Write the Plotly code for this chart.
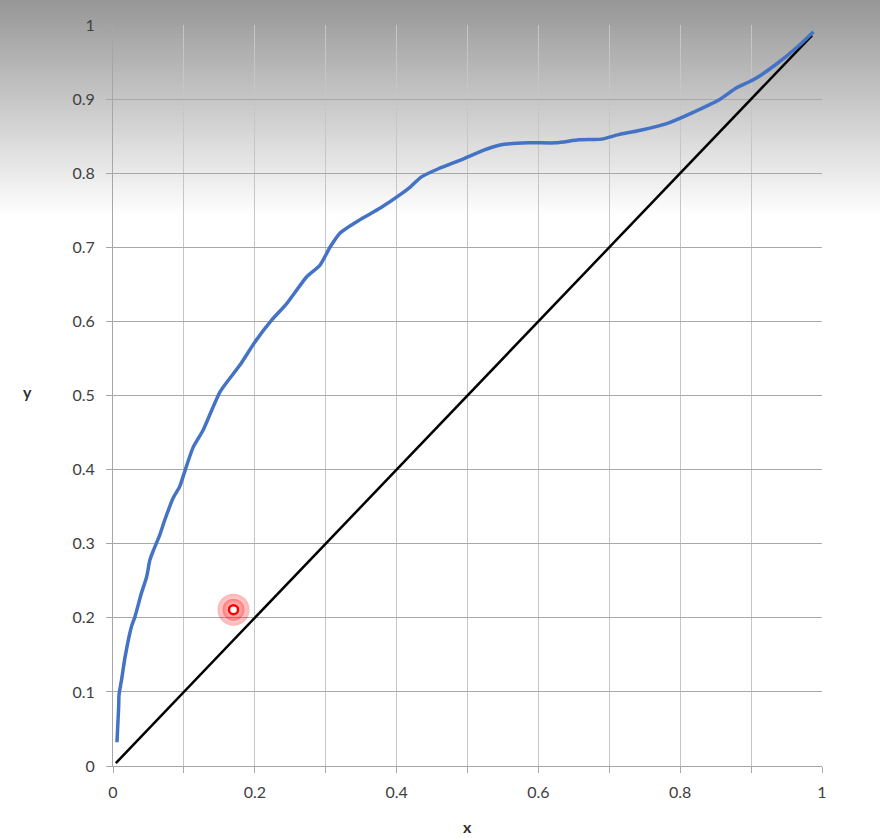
import plotly.graph_objects as go

# ---- data ----
blue_x = [0.0056, 0.008, 0.0085, 0.012, 0.017, 0.026, 0.031, 0.040, 0.0475, 0.052, 0.057, 0.066,
          0.073, 0.085, 0.094, 0.102, 0.113, 0.127, 0.151, 0.179, 0.200, 0.224, 0.245, 0.273, 0.292,
          0.306, 0.320, 0.348, 0.377, 0.405, 0.420, 0.435, 0.459, 0.491, 0.523, 0.546, 0.586,
          0.625, 0.657, 0.689, 0.713, 0.744, 0.784, 0.816, 0.855, 0.879, 0.903, 0.934, 0.966, 0.988]
blue_y = [0.032, 0.080, 0.096, 0.116, 0.147, 0.188, 0.2015, 0.233, 0.2555, 0.278, 0.291, 0.312,
          0.332, 0.362, 0.377, 0.400, 0.430, 0.453, 0.505, 0.541, 0.572, 0.602, 0.624, 0.660, 0.676,
          0.700, 0.719, 0.737, 0.753, 0.771, 0.782, 0.795, 0.806, 0.818, 0.831, 0.838, 0.841,
          0.841, 0.845, 0.846, 0.852, 0.858, 0.868, 0.881, 0.899, 0.915, 0.926, 0.946, 0.971, 0.991]

diag_x = [0.004, 0.1, 0.2, 0.3, 0.4, 0.5, 0.6, 0.7, 0.8, 0.9, 0.986]
diag_y = [0.004, 0.1, 0.2, 0.3, 0.4, 0.5, 0.6, 0.7, 0.8, 0.9, 0.986]

point_x = [0.17]
point_y = [0.211]

x_tickvals = [0, 0.1, 0.2, 0.3, 0.4, 0.5, 0.6, 0.7, 0.8, 0.9, 1.0]
x_ticktext = ["0", "", "0.2", "", "0.4", "", "0.6", "", "0.8", "", "1"]
y_tickvals = [0, 0.1, 0.2, 0.3, 0.4, 0.5, 0.6, 0.7, 0.8, 0.9, 1.0]
y_ticktext = ["0", "0.1", "0.2", "0.3", "0.4", "0.5", "0.6", "0.7", "0.8", "0.9", "1"]

# ---- layout geometry ----
W, H = 880, 838
ML, MR, MT, MB = 113, 58, 25, 72
PW, PH = W - ML - MR, H - MT - MB

fig = go.Figure()

fig.add_trace(go.Scatter(x=diag_x, y=diag_y, mode="lines",
                         line=dict(color="#000000", width=2.5), hoverinfo="skip"))
fig.add_trace(go.Scatter(x=blue_x, y=blue_y, mode="lines",
                         line=dict(color="#4472C4", width=3.5, shape="spline", smoothing=0.6),
                         hoverinfo="skip"))
# soft glow around the highlighted point
for sz, a in [(32, 0.30), (22, 0.40)]:
    fig.add_trace(go.Scatter(x=point_x, y=point_y, mode="markers",
                             marker=dict(size=sz, color=f"rgba(255,0,0,{a})",
                                         gradient=dict(type="radial", color="rgba(255,0,0,0)"),
                                         line=dict(width=0)), hoverinfo="skip"))
fig.add_trace(go.Scatter(x=point_x, y=point_y, mode="markers",
                         marker=dict(size=9, color="#ffffff", line=dict(color="#ff0000", width=2.5)),
                         hoverinfo="skip"))

# background gradient (top of the window)
shapes = []
grad_h = 216
step = 3
for py in range(0, grad_h, step):
    v = int(round(150 + 105 * (py + step / 2) / grad_h))
    v = min(v, 255)
    shapes.append(dict(type="rect", xref="paper", yref="paper",
                       x0=-ML / PW, x1=(W - ML) / PW,
                       y0=(H - MB - (py + step)) / PH, y1=(H - MB - py) / PH,
                       fillcolor=f"rgb({v},{v},{v})", line=dict(width=0), layer="below"))

fig.update_layout(
    width=W, height=H,
    margin=dict(l=ML, r=MR, t=MT, b=MB),
    paper_bgcolor="#ffffff",
    plot_bgcolor="rgba(0,0,0,0)",
    showlegend=False,
    shapes=shapes,
    font=dict(family="Lato, Open Sans, sans-serif", size=16, color="#404040"),
    annotations=[
        dict(text="<b>x</b>", x=0.5, y=(H - MB - 826) / PH, xref="paper", yref="paper",
             xanchor="center", yanchor="middle",
             showarrow=False, font=dict(size=16, color="#303030")),
        dict(text="<b>y</b>", x=(27 - ML) / PW, y=(H - MB - 391) / PH, xref="paper", yref="paper",
             xanchor="center", yanchor="middle",
             showarrow=False, font=dict(size=16, color="#303030")),
    ],
)
fig.update_xaxes(range=[0, 1], tickvals=x_tickvals, ticktext=x_ticktext,
                 showgrid=True, gridcolor="#c6c6c6", gridwidth=1,
                 showline=True, linecolor="#a6a6a6", linewidth=1,
                 ticks="outside", ticklen=6, tickcolor="#a6a6a6",
                 zeroline=False, mirror=False, ticklabelstandoff=6)
fig.update_yaxes(range=[0, 1], tickvals=y_tickvals, ticktext=y_ticktext,
                 showgrid=True, gridcolor="#a8a8a8", gridwidth=1,
                 showline=True, linecolor="#a6a6a6", linewidth=1,
                 ticks="outside", ticklen=6, tickcolor="#a6a6a6",
                 zeroline=False, ticklabelstandoff=8)

fig.write_html("out.html", config={"displayModeBar": False},
               post_script="document.body.style.margin='0';document.body.style.padding='0';")
